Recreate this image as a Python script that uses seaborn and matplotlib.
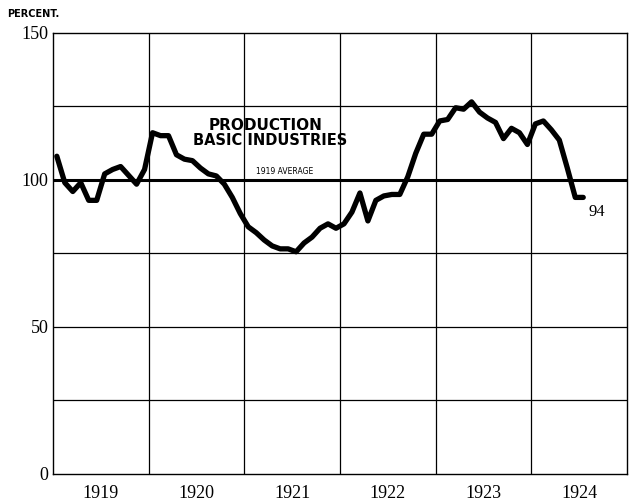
import numpy as np
import pandas as pd
import matplotlib
matplotlib.use("Agg")
import matplotlib.pyplot as plt
import seaborn as sns

# monthly index of production, basic industries (1919 average = 100), Jan 1919 - Jul 1924
values = [108, 99, 96, 99, 93, 93, 102, 103.5, 104.5, 101.5, 98.5, 103.5,
          116, 115, 115, 108.5, 107, 106.5, 104, 102, 101.3, 98.5, 94, 88.5,
          84, 82, 79.5, 77.5, 76.5, 76.5, 75.5, 78.5, 80.5, 83.5, 85, 83.5,
          85, 89, 95.5, 86, 93, 94.5, 95, 95, 101, 109, 115.5, 115.5,
          120, 120.5, 124.5, 124, 126.5, 123, 121, 119.5, 114, 117.5, 116, 112,
          119, 120, 117, 113.5, 104, 94, 94]
years = [1919, 1920, 1921, 1922, 1923, 1924]
y_ticks = [0, 50, 100, 150]
y_grid = [25, 75, 125]

df = pd.DataFrame({
    "t": [1919 + (i + 0.5) / 12 for i in range(len(values))],
    "pct": values,
})

sns.set_style("white")
plt.rcParams["font.family"] = ["Liberation Serif", "DejaVu Serif"]
plt.rcParams["text.color"] = "black"
plt.rcParams["xtick.color"] = "black"
plt.rcParams["ytick.color"] = "black"

fig = plt.figure(figsize=(6.29, 5.04), dpi=100)
ax = fig.add_axes([0.084, 0.06, 0.913, 0.875])

# grid
for yr in years[1:]:
    ax.axvline(yr, color="black", lw=0.9, zorder=1)
for g in y_grid + [50]:
    ax.axhline(g, color="black", lw=0.9, zorder=1)
ax.axhline(100, color="black", lw=2.2, zorder=1)

sns.lineplot(data=df, x="t", y="pct", ax=ax, color="black", lw=3.8,
             solid_joinstyle="round", solid_capstyle="round", zorder=3)

ax.set_xlim(1919, 1925)
ax.set_ylim(0, 150)
ax.set_xticks([y + 0.5 for y in years])
ax.set_xticklabels([str(y) for y in years], fontsize=13)
ax.set_yticks(y_ticks)
ax.set_yticklabels([str(v) for v in y_ticks], fontsize=13)
ax.tick_params(axis="y", length=0, pad=3)
ax.tick_params(axis="x", length=0, pad=8)
ax.set_xlabel("")
ax.set_ylabel("")
for s in ax.spines.values():
    s.set_color("black")
    s.set_linewidth(1.0)

sans = ["DejaVu Sans"]
ax.text(1921.22, 118.5, "PRODUCTION", ha="center", va="center",
        fontsize=11, fontweight="bold", family=sans)
ax.text(1921.27, 113.3, "BASIC INDUSTRIES", ha="center", va="center",
        fontsize=10.5, fontweight="bold", family=sans)
ax.text(1921.42, 101.2, "1919 AVERAGE", ha="center", va="bottom",
        fontsize=5.5, family=sans)
ax.text(df["t"].iloc[-1] + 0.05, 89, "94", ha="left", va="center", fontsize=12)
fig.text(0.012, 0.972, "PERCENT.", ha="left", va="center", fontsize=7,
         fontweight="bold", family=sans)

fig.savefig("out.png", dpi=100)
